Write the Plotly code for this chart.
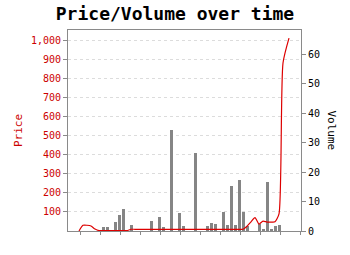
import plotly.graph_objects as go

# volume bars
bar_x = [6, 7, 9, 10, 11, 13, 18, 20, 21, 23, 25, 26, 29, 32, 33, 34, 36, 37, 38, 39, 40, 41, 42, 45, 46, 47, 48, 49, 50]
bar_vol = [1.2, 1.2, 2.9, 5.6, 7.6, 1.9, 3.3, 4.8, 1.2, 34.3, 6.1, 1.6, 26.6, 1.6, 2.6, 2.4, 6.6, 2.2, 15.4, 2.0, 17.2, 6.6, 1.8, 2.4, 0.5, 16.7, 0.8, 1.6, 1.9]

# price line
price_x = [0, 1, 2, 3, 4, 5, 6, 7, 8, 9, 10, 11, 12, 13, 14, 16, 18, 20, 22, 24, 26, 28, 30, 32, 34, 36, 38, 40, 41, 42, 43, 44, 45, 46, 47, 48, 49, 50, 51, 52.5]
price = [0, 30, 30, 26, 10, 2, 2, 2, 2, 2, 2, 2, 2, 9, 9, 9, 9, 9, 9, 9, 9, 9, 9, 9, 9, 9, 9, 9, 9, 25, 48, 70, 36, 52, 47, 47, 48, 90, 880, 1010]

x_ticks = [0.25 + 5 * k for k in range(12)]
price_ticks = [100, 200, 300, 400, 500, 600, 700, 800, 900, 1000]
vol_ticks = [0, 10, 20, 30, 40, 50, 60]

MONO = "DejaVu Sans Mono"
RED_TXT = "#cc0000"
RED_LINE = "#dd0000"
AX = "#8a8a8a"

fig = go.Figure()
fig.add_trace(go.Bar(x=bar_x, y=bar_vol, width=0.75, marker=dict(color="#858585", line=dict(width=0)),
                     yaxis="y", showlegend=False))
fig.add_trace(go.Scatter(x=price_x, y=price, mode="lines", line=dict(color=RED_LINE, width=1.2, shape="spline", smoothing=0.6),
                         yaxis="y2", showlegend=False))

fig.update_layout(
    width=350, height=255,
    margin=dict(l=68, r=49, t=30, b=24),
    paper_bgcolor="white", plot_bgcolor="white",
    font=dict(family=MONO, size=10, color="black"),
    title=dict(text="<b>Price/Volume over time</b>", x=0.5, xanchor="center", y=0.945, yanchor="middle",
               font=dict(family=MONO, size=18, color="black")),
    bargap=0,
    xaxis=dict(range=[-2.75, 55.5], tickvals=x_ticks, showticklabels=False, ticks="outside", ticklen=3,
               tickcolor=AX, showline=True, linecolor=AX, linewidth=1, mirror=True, showgrid=False, zeroline=False),
    yaxis=dict(side="right", range=[0, 68.25], tickvals=vol_ticks, ticks="outside", ticklen=4, tickcolor=AX,
               showline=True, linecolor=AX, linewidth=1, showgrid=False, zeroline=False,
               tickfont=dict(family=MONO, size=10, color="black")),
    yaxis2=dict(side="left", overlaying="y", range=[0, 1053], tickvals=price_ticks, tickformat=",",
                ticks="outside", ticklen=4, tickcolor=AX, showline=True, linecolor=AX, linewidth=1,
                showgrid=True, gridcolor="#dcdcdc", griddash="dot", gridwidth=1, zeroline=False,
                tickfont=dict(family=MONO, size=10, color=RED_TXT),
                title=dict(text="Price", font=dict(family=MONO, size=11, color=RED_TXT), standoff=6)),
    annotations=[dict(text="Volume", xref="paper", yref="paper", x=1.0, xshift=30, y=0.5,
                      xanchor="center", yanchor="middle", textangle=90, showarrow=False,
                      font=dict(family=MONO, size=11, color="black"))],
)

fig.write_html("out.html")
